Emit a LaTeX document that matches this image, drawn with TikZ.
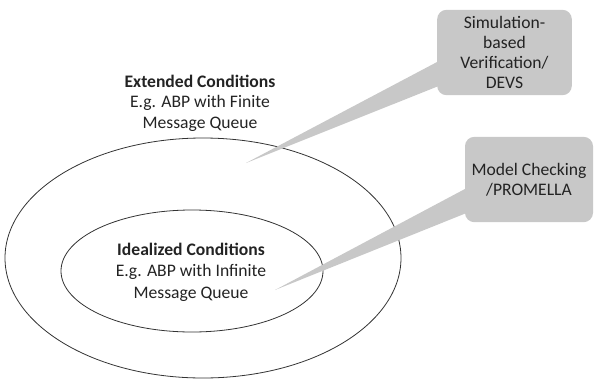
\documentclass[tikz,border=0pt]{standalone}
\usepackage{fontspec}
\setmainfont{Carlito}
\usetikzlibrary{calc}
\definecolor{calloutgray}{RGB}{200,200,200}
\definecolor{textgray}{RGB}{35,35,35}

\begin{document}
\begin{tikzpicture}[x=0.75pt, y=-0.75pt,
    method/.style={fill=calloutgray, rounded corners=7pt, minimum height=64pt, align=center, text=textgray, font=\fontsize{13.2}{15}\selectfont},
    condition/.style={align=center, text=textgray, font=\fontsize{13.2}{15.5}\selectfont},
    ring/.style={draw=black!80, line width=0.6pt}]
    \useasboundingbox (0,0) rectangle (594,383);

    %Draw outer and inner ellipse
    \draw[ring] (203,258) ellipse [x radius=198, y radius=120];
    \draw[ring] (192,271) ellipse [x radius=131, y radius=61];

    %Place condition text nodes
    \node[condition] (extended) at (200,103) {\textbf{Extended Conditions}\\E.g. ABP with Finite\\Message Queue};
    \node[condition, font=\fontsize{13.2}{16}\selectfont] (idealized) at (191,272) {\textbf{Idealized Conditions}\\E.g. ABP with Infinite\\Message Queue};

    %Place callout nodes
    \node[method, minimum width=101pt] (simulation) at (504.5,52.5) {Simulation-\\based\\Verification/\\DEVS};
    \node[method, minimum width=96pt] (checking) at (529,179.5) {Model Checking\\/PROMELLA};

    %Place pointer tips
    \coordinate (simtip) at (246,163);
    \coordinate (checktip) at (275,290);

    %Draw pointers
    \fill[calloutgray] ($(simulation.west)+(3,8)$) -- (simtip) -- ($(simulation.west)+(3,33)$) -- cycle;
    \fill[calloutgray] ($(checking.west)+(3,8)$) -- (checktip) -- ($(checking.west)+(3,33)$) -- cycle;
\end{tikzpicture}
\end{document}
